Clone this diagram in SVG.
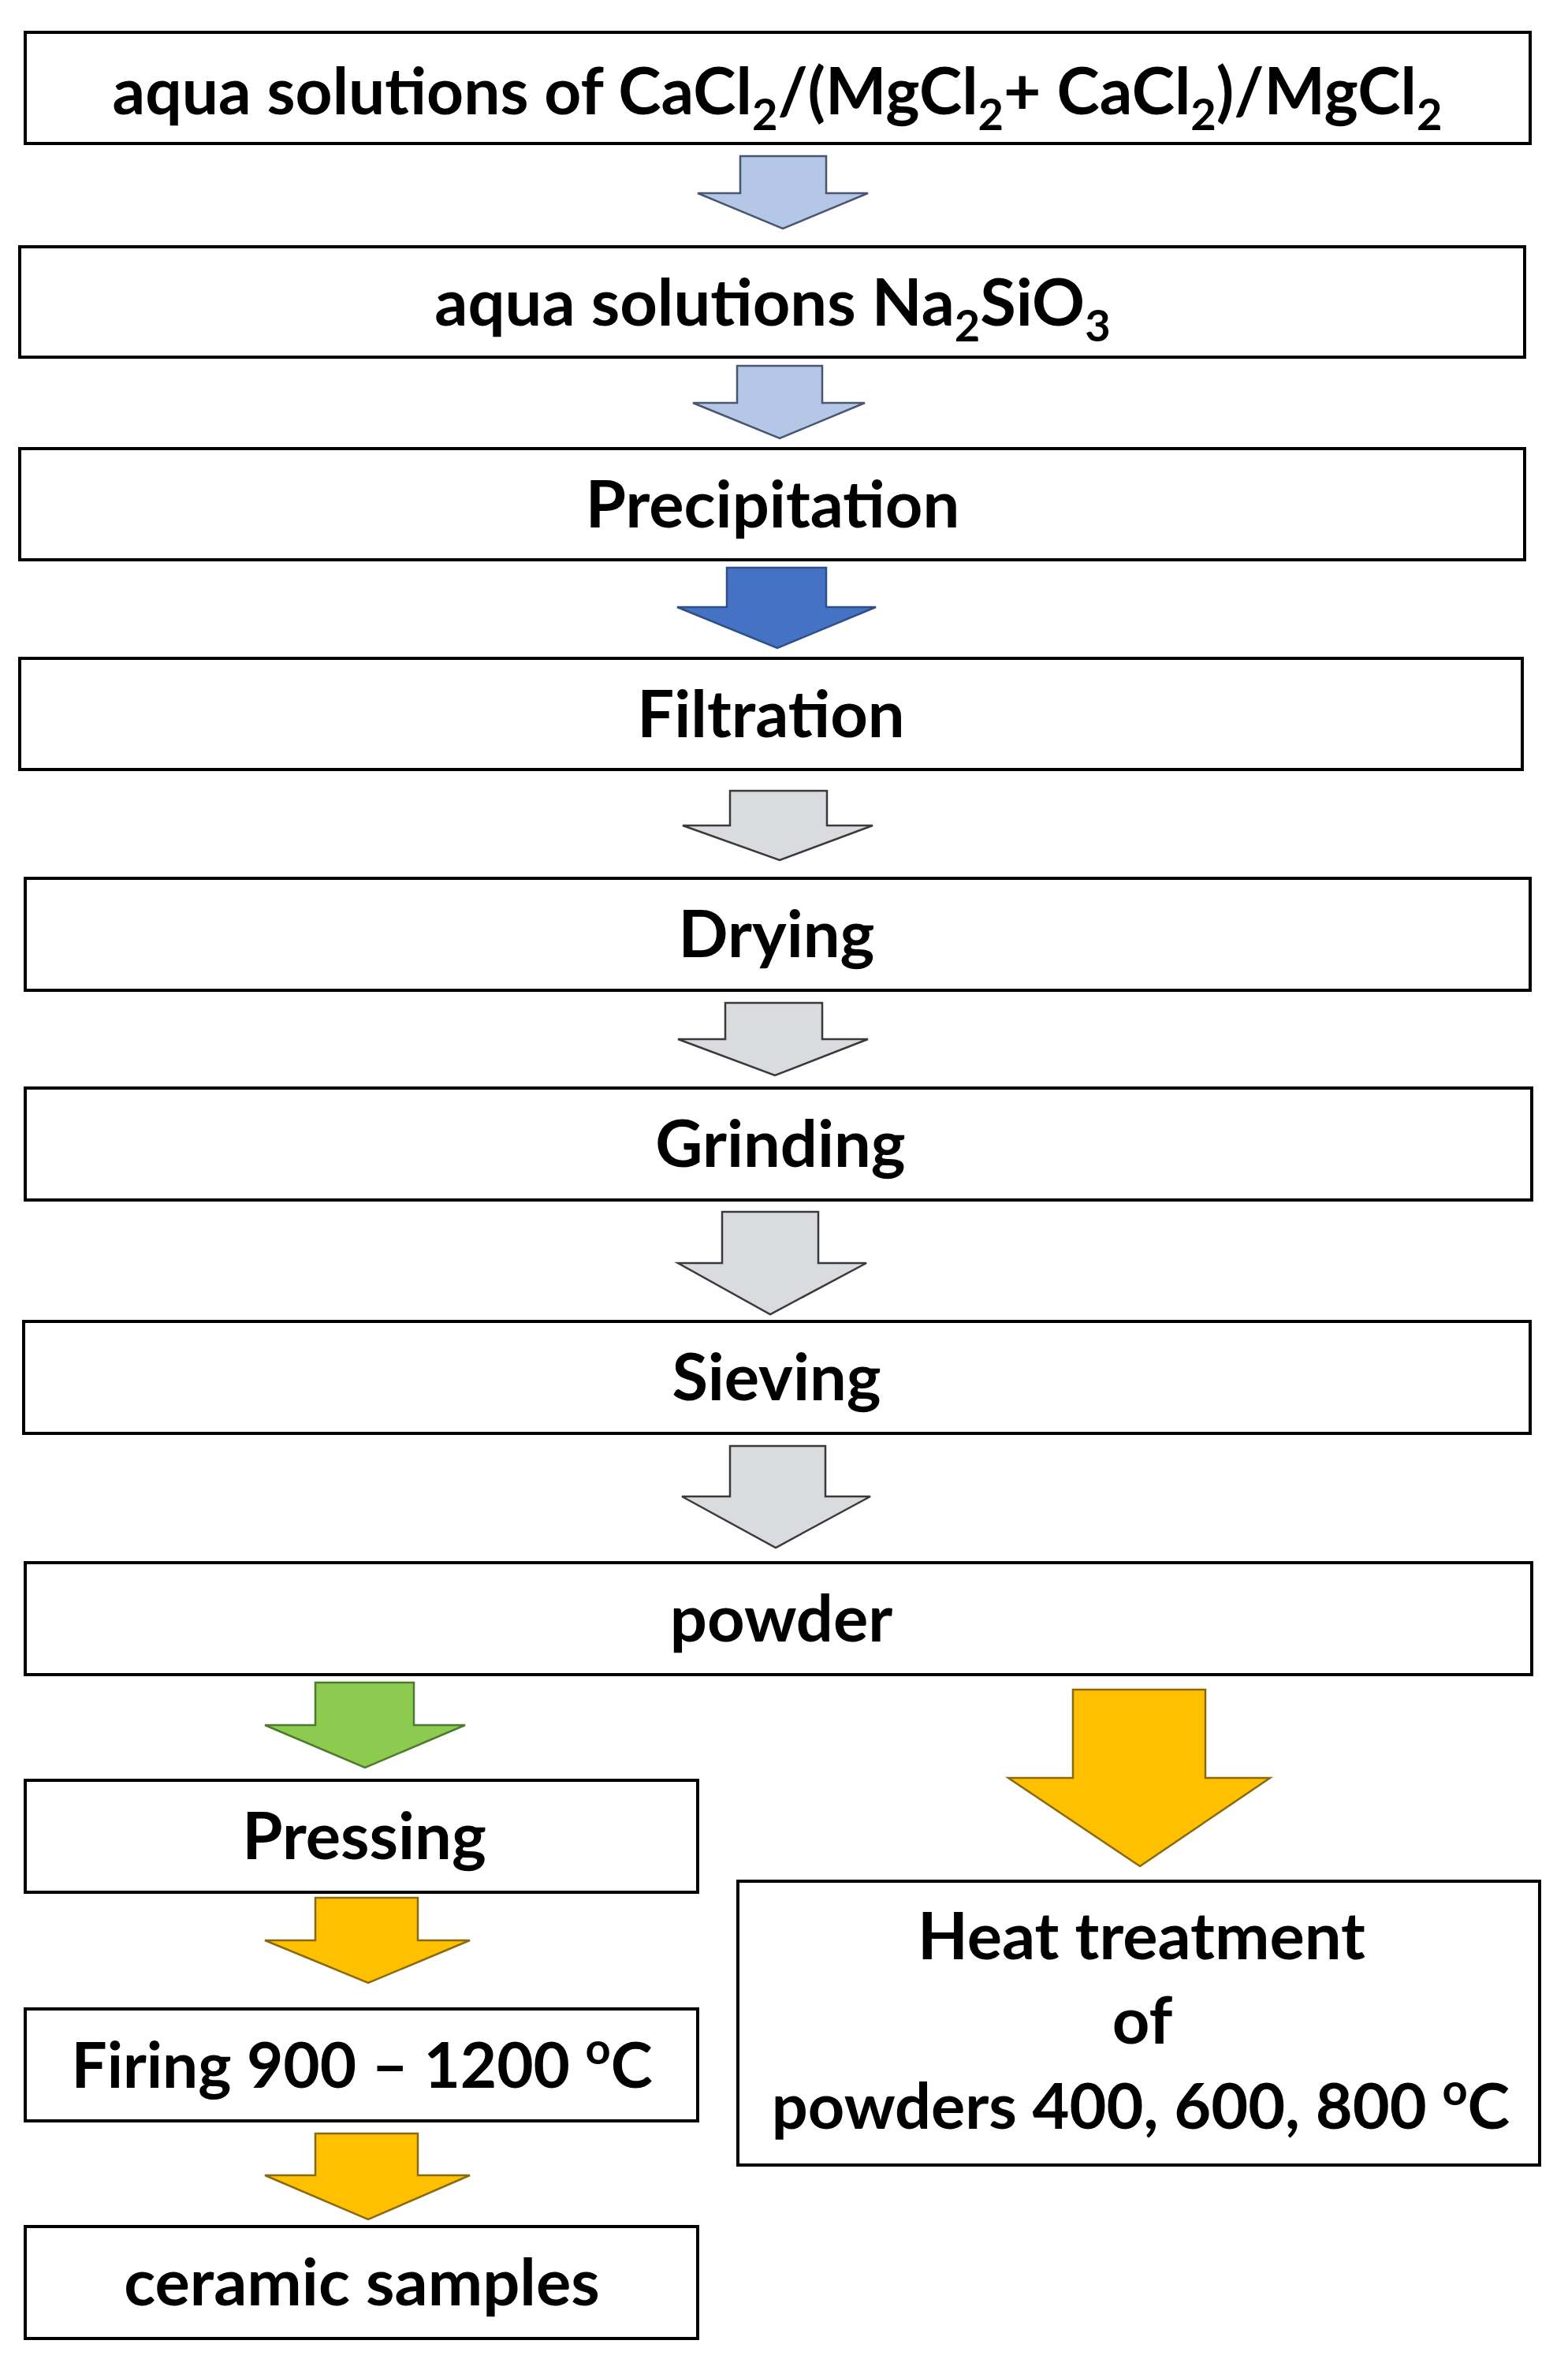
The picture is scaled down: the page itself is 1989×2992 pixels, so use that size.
<svg xmlns="http://www.w3.org/2000/svg" width="1989" height="2992" viewBox="0 0 1989 2992">
<style>
.box{fill:#fff;stroke:#000;stroke-width:4}
.t{font-family:Lato,"Open Sans","Liberation Sans",sans-serif;font-weight:bold;font-size:83px;fill:#000;text-anchor:middle}
.sub{font-size:56px}
.lb{fill:#B4C7E7;stroke:#4A5670;stroke-width:2.5}
.db{fill:#4472C4;stroke:#2F4F86;stroke-width:2.5}
.gr{fill:#DADBDE;stroke:#3A3A3A;stroke-width:2.5}
.gn{fill:#8CCB4F;stroke:#4E7A2E;stroke-width:2.5}
.or{fill:#FFC000;stroke:#8A6A10;stroke-width:2.5}
</style>
<rect width="1989" height="2992" fill="#fff"/>
<g id="connectors">
<polygon class="lb" points="939,198 1048,198 1048,245 1101,245 993,290 885,245 939,245"/>
<polygon class="lb" points="935,464 1043,464 1043,511 1097,511 989,556 879,511 935,511"/>
<polygon class="db" points="922,720 1048,720 1048,770 1111,770 986,822 859,770 922,770"/>
<polygon class="gr" points="926,1003 1049,1003 1049,1047 1107,1047 989,1091 866,1047 926,1047"/>
<polygon class="gr" points="920,1272 1043,1272 1043,1318 1101,1318 983,1364 860,1318 920,1318"/>
<polygon class="gr" points="916,1537 1038,1537 1038,1602 1099,1602 977,1667 860,1602 916,1602"/>
<polygon class="gr" points="926,1834 1047,1834 1047,1898 1104,1898 984,1963 865,1898 926,1898"/>
<polygon class="gn" points="400,2134 525,2134 525,2188 590,2188 463,2242 336,2188 400,2188"/>
<polygon class="or" points="1361,2143 1529,2143 1529,2255 1611,2255 1446,2367 1279,2255 1361,2255"/>
<polygon class="or" points="400,2407 530,2407 530,2461 596,2461 467,2515 336,2461 400,2461"/>
<polygon class="or" points="400,2706 530,2706 530,2759 596,2759 467,2815 336,2759 400,2759"/>
</g>
<g id="n1"><rect class="box" x="32" y="41" width="1909" height="141"/>
<text class="t" x="986" y="145" style="font-size:82px">aqua solutions of CaCl<tspan class="sub" dy="20">2</tspan><tspan dy="-20">/(MgCl</tspan><tspan class="sub" dy="20">2</tspan><tspan dy="-20">+ CaCl</tspan><tspan class="sub" dy="20">2</tspan><tspan dy="-20">)/MgCl</tspan><tspan class="sub" dy="20">2</tspan></text></g>
<g id="n2"><rect class="box" x="25" y="313" width="1909" height="140"/>
<text class="t" x="980" y="413">aqua solutions Na<tspan class="sub" dy="20">2</tspan><tspan dy="-20">SiO</tspan><tspan class="sub" dy="20">3</tspan></text></g>
<g id="n3"><rect class="box" x="25" y="569" width="1909" height="141"/>
<text class="t" x="980" y="669">Precipitation</text></g>
<g id="n4"><rect class="box" x="25" y="835" width="1906" height="141"/>
<text class="t" x="978" y="935">Filtration</text></g>
<g id="n5"><rect class="box" x="32" y="1114" width="1909" height="142"/>
<text class="t" x="985" y="1214">Drying</text></g>
<g id="n6"><rect class="box" x="32" y="1380" width="1911" height="142"/>
<text class="t" x="990" y="1480">Grinding</text></g>
<g id="n7"><rect class="box" x="30" y="1676" width="1911" height="142"/>
<text class="t" x="985" y="1776">Sieving</text></g>
<g id="n8"><rect class="box" x="32" y="1982" width="1911" height="142"/>
<text class="t" x="991" y="2082">powder</text></g>
<g id="n9"><rect class="box" x="32" y="2258" width="853" height="142"/>
<text class="t" x="462" y="2358">Pressing</text></g>
<g id="n10"><rect class="box" x="32" y="2548" width="853" height="142"/>
<text class="t" x="459" y="2648" style="font-size:80px">Firing 900 – 1200 <tspan class="sub" dy="-30">o</tspan><tspan dy="30">C</tspan></text></g>
<g id="n11"><rect class="box" x="32" y="2824" width="853" height="142"/>
<text class="t" x="459" y="2924">ceramic samples</text></g>
<g id="n12"><rect class="box" x="936" y="2386" width="1017" height="360"/>
<text class="t" x="1448" y="2485">Heat treatment</text>
<text class="t" x="1449" y="2592">of</text>
<text class="t" x="1447" y="2700" style="font-size:81px">powders 400, 600, 800 <tspan class="sub" dy="-30">o</tspan><tspan dy="30">C</tspan></text></g>
</svg>
